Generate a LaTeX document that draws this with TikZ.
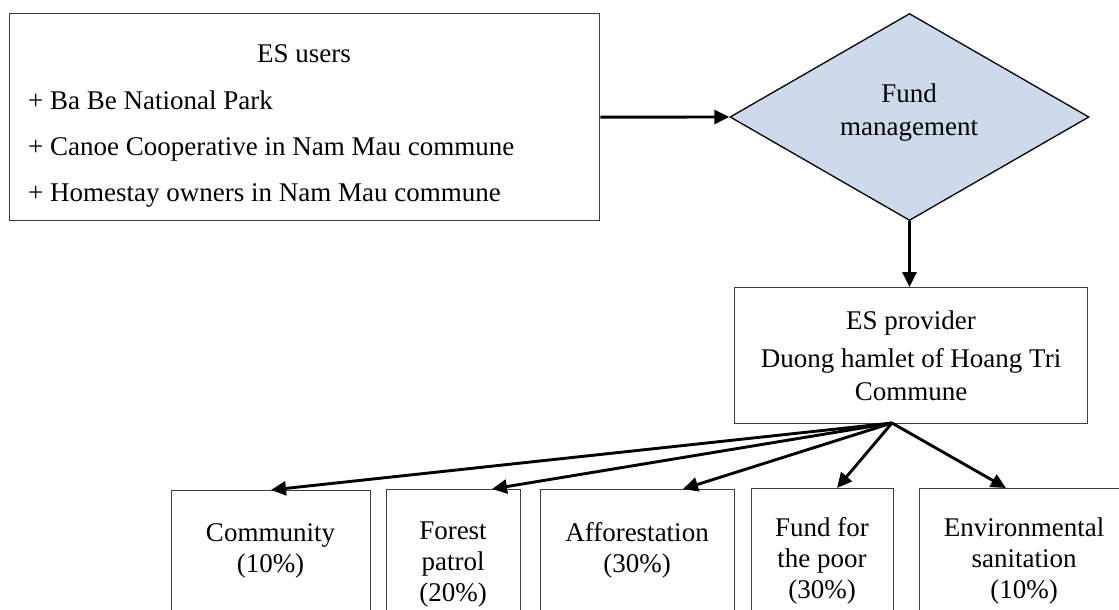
\documentclass[tikz,border=0pt]{standalone}
\usepackage{fontspec}
\setmainfont{Liberation Serif}
\usetikzlibrary{arrows.meta,shapes.geometric,calc}
\definecolor{dfill}{RGB}{205,218,235}
\definecolor{boxline}{RGB}{60,60,60}
\tikzset{
  box/.style={draw=boxline, line width=1.3pt, rectangle, inner sep=0pt, anchor=north west},
  txt/.style={font=\fontsize{27}{31}\selectfont, inner sep=0pt, anchor=base, align=center},
  conn/.style={line width=2.9pt, -{Triangle[length=15pt,width=14pt]}}
}
\begin{document}
\begin{tikzpicture}[x=1pt,y=-1pt]
\useasboundingbox (0,0) rectangle (1119,610);
\clip (0,0) rectangle (1119,610);

% ES users
\node[box, minimum width=590pt, minimum height=207pt] (users) at (9,13) {};
\node[txt] (usersT) at (304,63) {ES users};
\node[txt, anchor=base west] (u1) at (28,109) {+ Ba Be National Park};
\node[txt, anchor=base west] (u2) at (28,155) {+ Canoe Cooperative in Nam Mau commune};
\node[txt, anchor=base west] (u3) at (28,201) {+ Homestay owners in Nam Mau commune};

% Fund management
\node[diamond, draw=black, line width=1.3pt, fill=dfill, inner sep=0pt,
      minimum width=359pt, minimum height=207pt] (fund) at (909.5,117) {};
\node[txt, font=\fontsize{27}{33}\selectfont] (fundT) at (909,135) {Fund\\management};

% ES provider
\node[box, minimum width=353pt, minimum height=136pt] (prov) at (734,287) {};
\node[txt] (provA) at (911,329) {ES provider};
\node[txt] (provB) at (911,367) {Duong hamlet of Hoang Tri};
\node[txt] (provC) at (911,400) {Commune};

% bottom boxes
\node[box, minimum width=199pt, minimum height=140pt] (comm) at (171,490) {};
\node[box, minimum width=134pt, minimum height=140pt] (forest) at (386,489) {};
\node[box, minimum width=194pt, minimum height=140pt] (affor) at (540,489) {};
\node[box, minimum width=142pt, minimum height=140pt] (poor) at (751,488) {};
\node[box, minimum width=210pt, minimum height=140pt] (env) at (919,488) {};

\node[txt] (commT) at (270.5,572) {Community\\(10\%)};
\node[txt] (forestT) at (453,601) {Forest\\patrol\\(20\%)};
\node[txt] (afforT) at (637,572) {Afforestation\\(30\%)};
\node[txt] (poorT) at (822,598) {Fund for\\the poor\\(30\%)};
\node[txt] (envT) at (1024,598) {Environmental\\sanitation\\(10\%)};

% connectors
\draw[conn] (users.east) -- (fund.west);
\draw[conn] (fund.south) -- (fund.south |- prov.north);
\coordinate (src) at (892,423);
\draw[conn] (src) -- ($(comm.north west)+(100,0)$);
\draw[conn] (src) -- ($(forest.north west)+(106,0)$);
\draw[conn] (src) -- ($(affor.north west)+(143,0)$);
\draw[conn] (src) -- ($(poor.north west)+(86,0)$);
\draw[conn] (src) -- ($(env.north west)+(87,0)$);
\end{tikzpicture}
\end{document}
